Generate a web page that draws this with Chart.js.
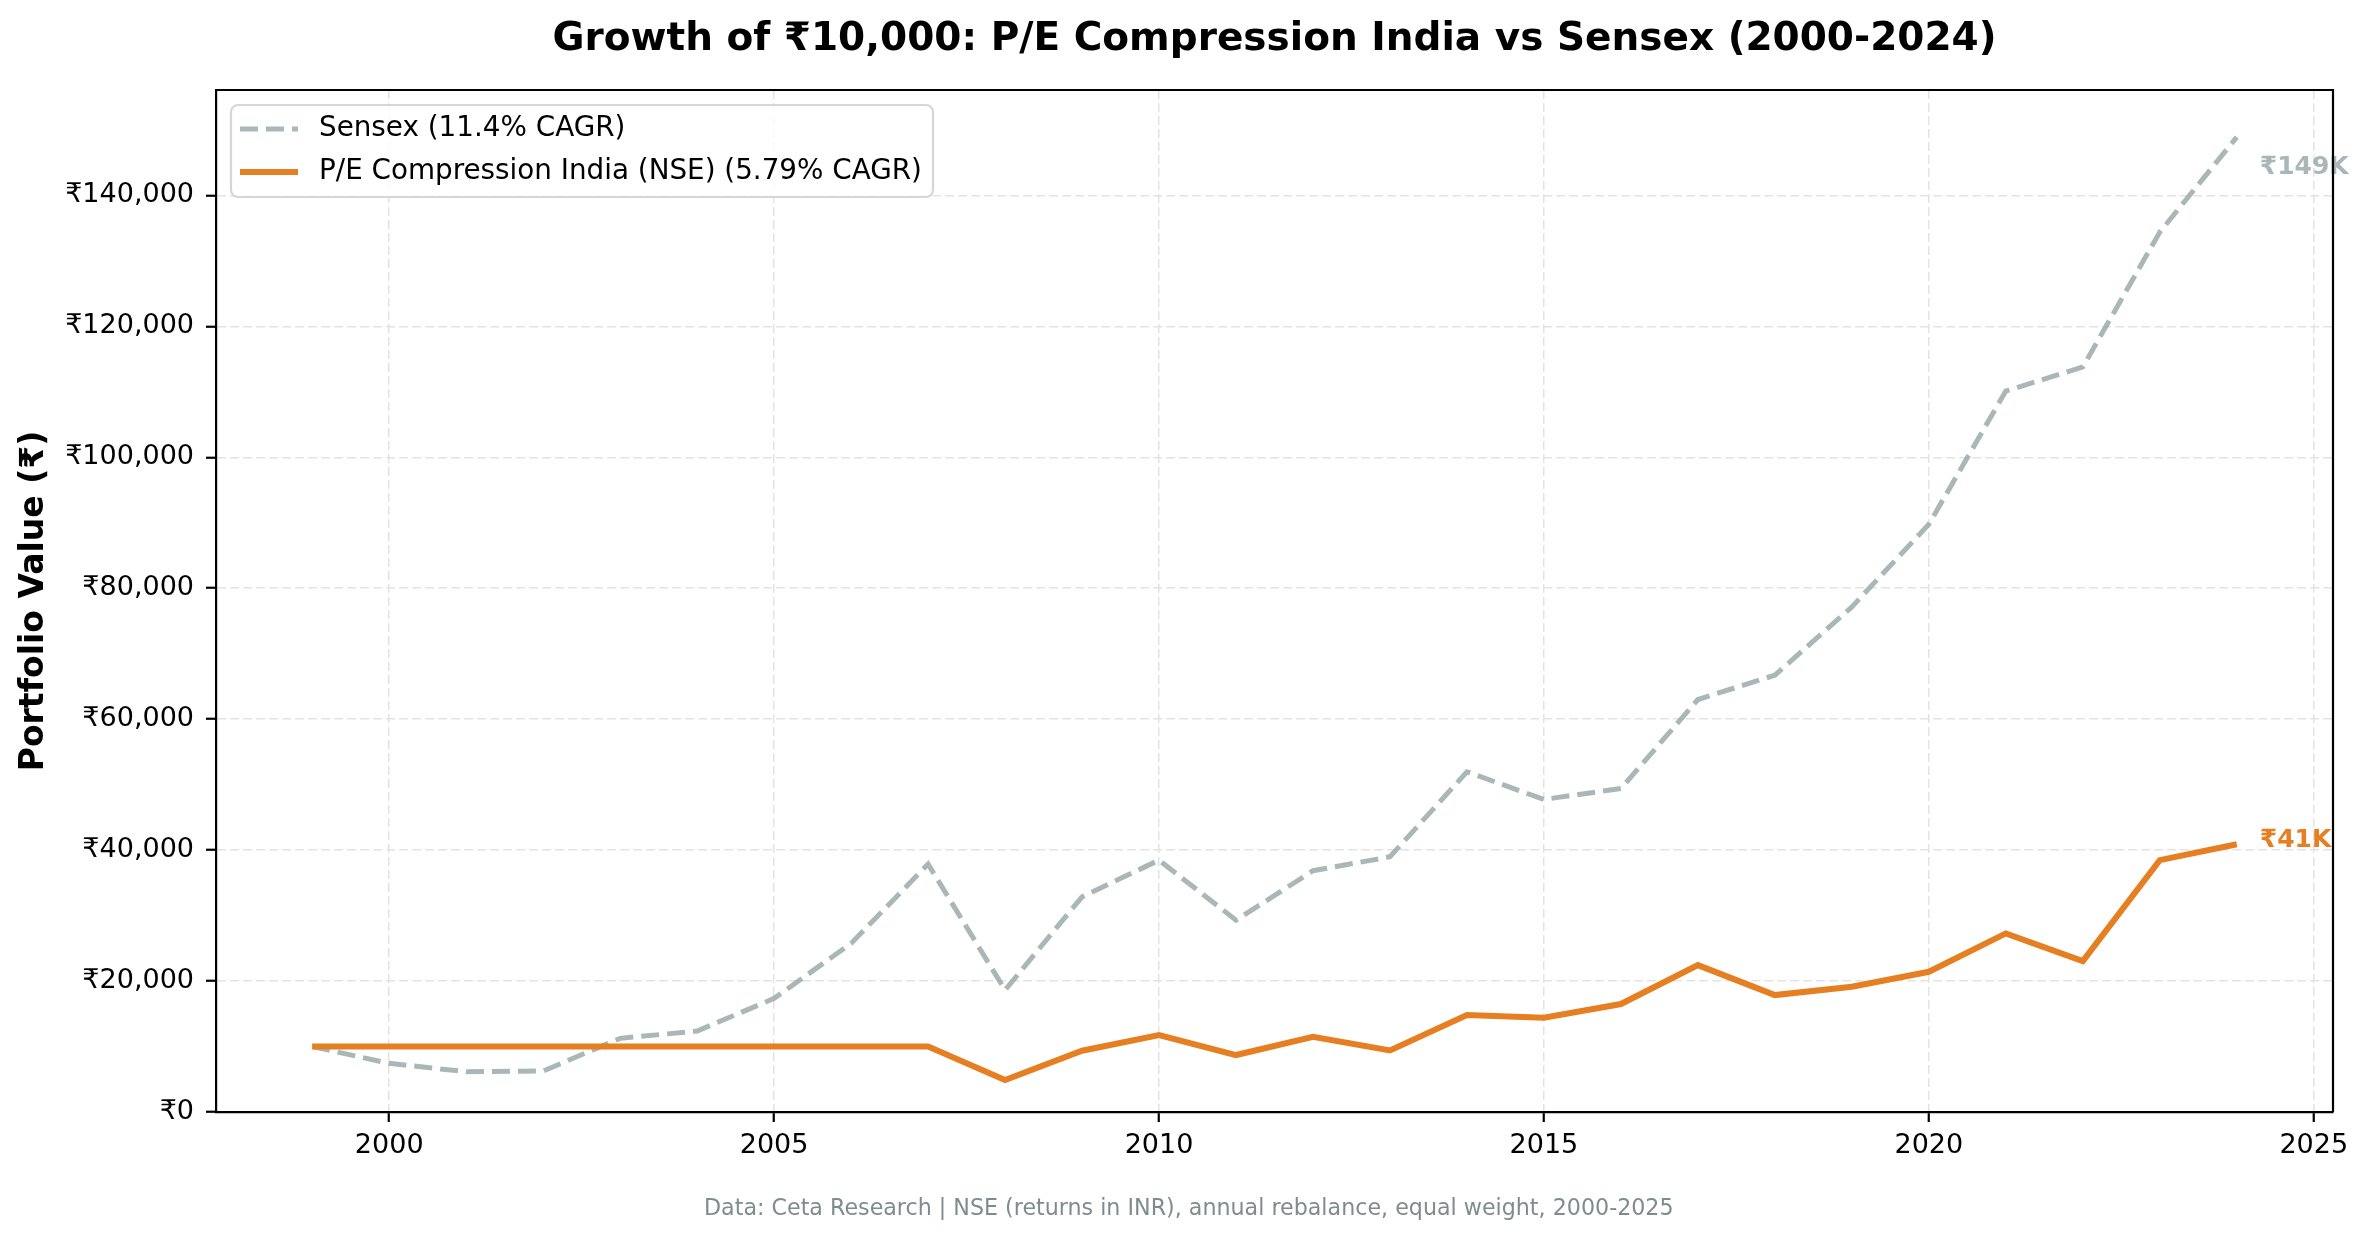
<!DOCTYPE html>
<html>
<head>
<meta charset="utf-8">
<title>Growth of ₹10,000: P/E Compression India vs Sensex</title>
<script src="https://cdn.jsdelivr.net/npm/chart.js@4.4.1/dist/chart.umd.min.js"></script>
<style>
  body { margin: 0; background: #ffffff; }
  canvas { display: block; }
</style>
</head>
<body>
<canvas id="myChart" width="2369" height="1239"></canvas>
<script>
// values
var years = [1999, 2000, 2001, 2002, 2003, 2004, 2005, 2006, 2007, 2008, 2009, 2010, 2011,
             2012, 2013, 2014, 2015, 2016, 2017, 2018, 2019, 2020, 2021, 2022, 2023, 2024];
var sensex = [10000, 7430, 6150, 6260, 11250, 12370, 17350, 25750, 37860, 18630, 32870, 38470, 29310,
              36850, 38980, 51960, 47740, 49410, 63000, 66720, 77150, 89770, 110120, 113790, 134400, 148900];
var peCompression = [10000, 10000, 10000, 10000, 10000, 10000, 10000, 10000, 10000, 4890, 9360, 11760, 8700,
                     11500, 9400, 14810, 14400, 16490, 22440, 17860, 19130, 21420, 27280, 23050, 38470, 40900];
var xTicks = [2000, 2005, 2010, 2015, 2020, 2025];
var yTicks = [0, 20000, 40000, 60000, 80000, 100000, 120000, 140000];
var seriesNames = ["Sensex (11.4% CAGR)", "P/E Compression India (NSE) (5.79% CAGR)"];
var endLabels = ["₹149K", "₹41K"];

var titleText = "Growth of ₹10,000: P/E Compression India vs Sensex (2000-2024)";
var footerText = "Data: Ceta Research | NSE (returns in INR), annual rebalance, equal weight, 2000-2025";

var FONT = '"DejaVu Sans", "Noto Sans", sans-serif';
var grayLine = "rgba(149,165,166,0.8)";
var orange = "#e67e22";

function toPoints(vals) {
  return years.map(function (y, i) { return { x: y, y: vals[i] }; });
}

// title, footer, full frame, legend box and end labels
var decorations = {
  id: "decorations",
  afterDatasetsDraw: function (chart) {
    var ctx = chart.ctx;

    // end-of-line value labels
    var offsets = [30, -4];
    var colors = [grayLine, orange];
    chart.data.datasets.forEach(function (ds, i) {
      var meta = chart.getDatasetMeta(i);
      var last = meta.data[meta.data.length - 1];
      var idx = ds.labelIndex;
      ctx.save();
      ctx.font = "bold 25px " + FONT;
      ctx.fillStyle = colors[idx];
      ctx.textAlign = "left";
      ctx.textBaseline = "middle";
      ctx.fillText(endLabels[idx], last.x + 23, last.y + offsets[idx]);
      ctx.restore();
    });
  },
  afterDraw: function (chart) {
    var ctx = chart.ctx;
    var area = chart.chartArea;

    // top and right spines
    ctx.save();
    ctx.strokeStyle = "#000000";
    ctx.lineWidth = 2.2;
    ctx.beginPath();
    ctx.moveTo(area.left, area.top);
    ctx.lineTo(area.right, area.top);
    ctx.lineTo(area.right, area.bottom);
    ctx.stroke();
    ctx.restore();

    // title centred over the plot
    ctx.save();
    ctx.font = "bold 39px " + FONT;
    ctx.fillStyle = "#000000";
    ctx.textAlign = "center";
    ctx.textBaseline = "alphabetic";
    ctx.fillText(titleText, (area.left + area.right) / 2, 50);
    ctx.restore();

    // footer note
    ctx.save();
    ctx.font = "22.2px " + FONT;
    ctx.fillStyle = "#7f8c8d";
    ctx.textAlign = "left";
    ctx.textBaseline = "alphabetic";
    ctx.fillText(footerText, 704, 1215);
    ctx.restore();

    // legend inside the plot, upper left
    var bx = area.left + 15, by = area.top + 15, bw = 702, bh = 92;
    ctx.save();
    ctx.beginPath();
    ctx.roundRect(bx, by, bw, bh, 7);
    ctx.fillStyle = "rgba(255,255,255,0.8)";
    ctx.fill();
    ctx.strokeStyle = "#d6d6d6";
    ctx.lineWidth = 2.2;
    ctx.stroke();

    var rows = [by + 24, by + 67];
    var styles = [
      { color: grayLine, width: 5, dash: [18, 8] },
      { color: orange, width: 6, dash: [] }
    ];
    for (var i = 0; i < seriesNames.length; i++) {
      ctx.beginPath();
      ctx.setLineDash(styles[i].dash);
      ctx.strokeStyle = styles[i].color;
      ctx.lineWidth = styles[i].width;
      ctx.moveTo(bx + 9, rows[i]);
      ctx.lineTo(bx + 67, rows[i]);
      ctx.stroke();
      ctx.setLineDash([]);
      ctx.font = "27.8px " + FONT;
      ctx.fillStyle = "#000000";
      ctx.textAlign = "left";
      ctx.textBaseline = "middle";
      ctx.fillText(seriesNames[i], bx + 88, rows[i]);
    }
    ctx.restore();
  }
};

var ctx = document.getElementById("myChart").getContext("2d");
var myChart = new Chart(ctx, {
  type: "line",
  data: {
    datasets: [{
      label: seriesNames[1],
      labelIndex: 1,
      data: toPoints(peCompression),
      borderColor: orange,
      backgroundColor: "transparent",
      borderWidth: 6,
      pointRadius: 0,
      tension: 0,
      order: 1
    }, {
      label: seriesNames[0],
      labelIndex: 0,
      data: toPoints(sensex),
      borderColor: grayLine,
      backgroundColor: "transparent",
      borderWidth: 5,
      borderDash: [18, 8],
      pointRadius: 0,
      tension: 0,
      order: 2
    }]
  },
  plugins: [decorations],
  options: {
    responsive: false,
    devicePixelRatio: 1,
    animation: false,
    layout: { padding: { top: 90, right: 36, bottom: 0, left: 0 } },
    plugins: {
      legend: { display: false },
      tooltip: { enabled: false }
    },
    scales: {
      x: {
        type: "linear",
        min: 1997.75,
        max: 2025.25,
        afterBuildTicks: function (scale) {
          scale.ticks = xTicks.map(function (v) { return { value: v }; });
        },
        afterFit: function (scale) { scale.height = 127; },
        ticks: {
          color: "#000000",
          font: { family: FONT, size: 27 },
          padding: 8,
          maxRotation: 0,
          callback: function (v) { return String(v); }
        },
        grid: {
          color: "#e3e3e3",
          lineWidth: 1.5,
          tickColor: "#000000",
          tickWidth: 2.2,
          tickLength: 10
        },
        border: { display: true, color: "#000000", width: 2.2, dash: [9, 4] }
      },
      y: {
        type: "linear",
        min: 0,
        max: 156100,
        afterBuildTicks: function (scale) {
          scale.ticks = yTicks.map(function (v) { return { value: v }; });
        },
        afterFit: function (scale) { scale.width = 216; },
        ticks: {
          color: "#000000",
          font: { family: FONT, size: 27 },
          padding: 12,
          callback: function (v) { return "₹" + Number(v).toLocaleString("en-US"); }
        },
        grid: {
          color: "#e3e3e3",
          lineWidth: 1.5,
          tickColor: "#000000",
          tickWidth: 2.2,
          tickLength: 10
        },
        border: { display: true, color: "#000000", width: 2.2, dash: [9, 4] },
        title: {
          display: true,
          text: "Portfolio Value (₹)",
          color: "#000000",
          font: { family: FONT, size: 33, weight: "bold" },
          padding: { top: 15, bottom: 0 }
        }
      }
    }
  }
});
</script>
</body>
</html>
